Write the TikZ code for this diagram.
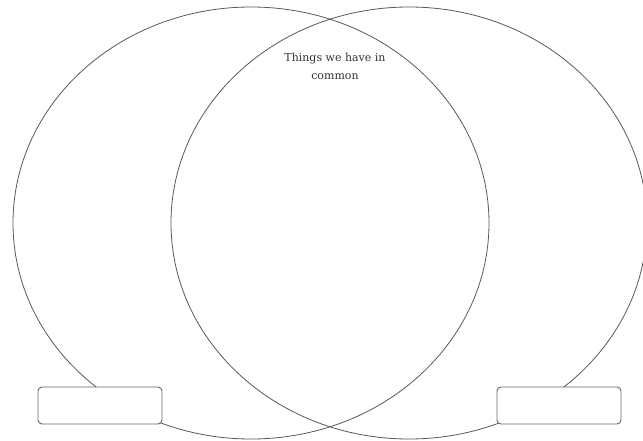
\documentclass[tikz,border=0pt]{standalone}
\usepackage{fontspec}
\setmainfont{DejaVu Serif}
\begin{document}
\begin{tikzpicture}[x=1pt,y=-1pt,
  venn/.style={draw=black!65, line width=0.8pt},
  namebox/.style={draw=black!60, line width=0.9pt, fill=white, rounded corners=4pt,
    minimum width=124pt, minimum height=37pt, inner sep=0pt},
  label/.style={text=black!80, font=\fontsize{11}{18}\selectfont, align=center}]
\useasboundingbox (0,0) rectangle (643,440);
\clip (0,0) rectangle (643,440);
\fill[white] (0,0) rectangle (643,440);
\draw[venn] (251,223) ellipse [x radius=238, y radius=216];
\draw[venn] (409,223) ellipse [x radius=238, y radius=216];
\node[namebox] (leftbox) at (100,405.5) {};
\node[namebox] (rightbox) at (559,405.5) {};
\node[label] (common) at (335,66) {Things we have in\\common};
\end{tikzpicture}
\end{document}
